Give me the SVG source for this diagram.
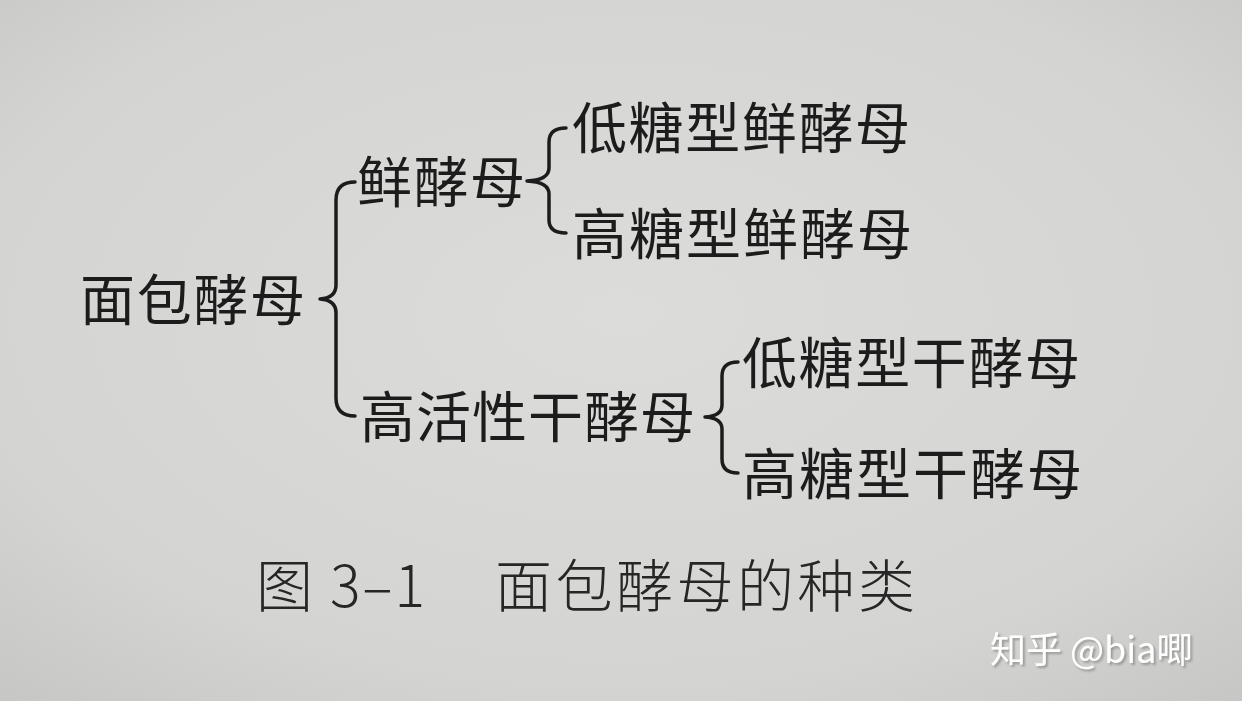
<svg xmlns="http://www.w3.org/2000/svg" width="1242" height="701" viewBox="0 0 1242 701">
<defs>
<radialGradient id="bg" cx="0.5" cy="0.45" r="0.75">
<stop offset="0" stop-color="#dcdcda"/>
<stop offset="0.7" stop-color="#d4d4d2"/>
<stop offset="1" stop-color="#c6c6c4"/>
</radialGradient>
<filter id="sh" x="-10%" y="-30%" width="120%" height="160%">
<feDropShadow dx="2" dy="2" stdDeviation="1" flood-color="#8a8a88" flood-opacity="0.8"/>
</filter>
</defs>
<style>
.t{font-family:"Noto Sans CJK SC","Noto Sans",sans-serif;font-size:55px;fill:#1c1c1c;}
.c{font-family:"Noto Sans CJK SC","Noto Sans",sans-serif;font-size:57px;fill:#262626;font-weight:300;}
.b{fill:none;stroke:#1c1c1c;stroke-width:3.5;stroke-linecap:round;stroke-linejoin:round;}
.w{font-family:"Noto Sans CJK SC","Noto Sans",sans-serif;font-size:36px;fill:#ffffff;}
</style>
<rect width="1242" height="701" fill="url(#bg)"/>
<g id="connectors">
<path class="b" d="M355,182 Q336,182 336,200 L336,285 Q336,298 320,299 Q336,300 336,313 L336,398 Q336,416 355,416"/>
<path class="b" d="M566,128 Q549,128 549,142 L549,168 Q549,180 527,181 Q549,182 549,194 L549,220 Q549,233 566,233"/>
<path class="b" d="M738,362 Q722,362 722,376 L722,405 Q722,416 705,417 Q722,418 722,429 L722,459 Q722,473 738,473"/>
</g>
<g id="n-root"><text class="t" x="80" y="320" textLength="225">面包酵母</text></g>
<g id="n-fresh"><text class="t" x="357" y="202" textLength="168">鲜酵母</text></g>
<g id="n-fresh-low"><text class="t" x="572" y="148" textLength="338">低糖型鲜酵母</text></g>
<g id="n-fresh-high"><text class="t" x="572" y="254" textLength="340">高糖型鲜酵母</text></g>
<g id="n-dry"><text class="t" x="360" y="437" textLength="335">高活性干酵母</text></g>
<g id="n-dry-low"><text class="t" x="742" y="383" textLength="338">低糖型干酵母</text></g>
<g id="n-dry-high"><text class="t" x="742" y="494" textLength="340">高糖型干酵母</text></g>
<g id="caption"><text class="c" x="256" y="607">图</text><text class="c" x="330" y="607" textLength="95">3–1</text><text class="c" x="495" y="607" textLength="420">面包酵母的种类</text></g>
<g id="watermark" filter="url(#sh)">
<text class="w" x="990" y="663">知乎 @bia唧</text>
</g>
</svg>
